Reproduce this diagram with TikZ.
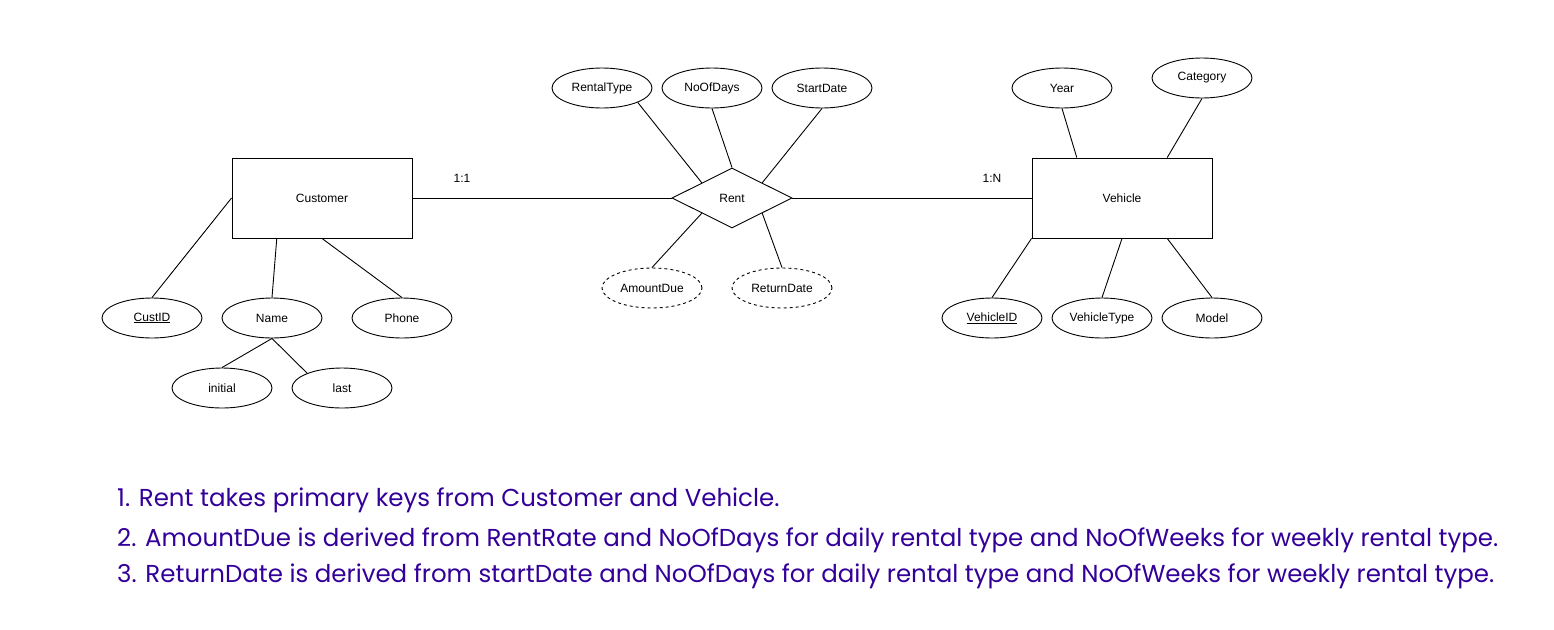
\documentclass[tikz,border=0pt]{standalone}
\usepackage{fontspec}
\setmainfont{Liberation Sans}
\newfontfamily\notefont{Poppins}
\usetikzlibrary{shapes.geometric,calc}
\definecolor{NoteBlue}{HTML}{330099}

\begin{document}
\begin{tikzpicture}[x=1pt,y=-1pt,
  every node/.style={font=\fontsize{12}{14}\selectfont},
  entity/.style={draw,line width=0.9pt,minimum width=180pt,minimum height=80pt,inner sep=0pt},
  attr/.style={draw,ellipse,line width=0.9pt,minimum width=100pt,minimum height=40pt,inner sep=0pt},
  derived/.style={attr,dash pattern=on 3pt off 3pt},
  relation/.style={draw,diamond,aspect=2,line width=0.9pt,minimum width=120pt,minimum height=60pt,inner sep=0pt},
  link/.style={line width=0.9pt},
  note/.style={anchor=west,inner sep=0pt,text=NoteBlue,font=\notefont\fontsize{24.5}{28}\selectfont}]
\fill[white] (0,0) rectangle (1554,629);
\useasboundingbox (0,0) rectangle (1554,629);

% Entities and relation
\node[entity] (cust) at (322,198) {Customer};
\node[relation] (rent) at (732,198) {Rent};
\node[entity] (veh) at (1122,198) {Vehicle};

% Rent attributes
\node[attr] (rtype) at (602,88) {RentalType};
\node[attr] (ndays) at (712,88) {NoOfDays};
\node[attr] (sdate) at (822,88) {StartDate};
\node[derived] (adue) at (652,288) {AmountDue};
\node[derived] (rdate) at (782,288) {ReturnDate};

% Customer attributes
\node[attr] (cid) at (152,318) {\underline{CustID}};
\node[attr] (cname) at (272,318) {Name};
\node[attr] (phone) at (402,318) {Phone};
\node[attr] (initial) at (222,388) {initial};
\node[attr] (last) at (342,388) {last};

% Vehicle attributes
\node[attr] (year) at (1062,88) {Year};
\node[attr] (cat) at (1202,78) {Category};
\node[attr] (vid) at (992,318) {\underline{VehicleID}};
\node[attr] (vtype) at (1102,318) {VehicleType};
\node[attr] (model) at (1212,318) {Model};

% Cardinalities
\node (c11) at (462,178) {1:1};
\node (c1n) at (992,178) {1:N};

% Links
\draw[link] (cust.east) -- (rent.west);
\draw[link] (rent.east) -- (veh.west);

\draw[link] (rtype.-22) -- ($(rent.west)!0.5!(rent.north)$);
\draw[link] (ndays.south) -- (rent.north);
\draw[link] (sdate.south) -- ($(rent.north)!0.5!(rent.east)$);
\draw[link] (adue.north) -- ($(rent.west)!0.5!(rent.south)$);
\draw[link] (rdate.north) -- ($(rent.south)!0.5!(rent.east)$);

\draw[link] (cid.north) -- (cust.west);
\draw[link] (cname.north) -- ($(cust.south west)!0.25!(cust.south east)$);
\draw[link] (phone.north) -- (cust.south);
\draw[link] (cname.south) -- (initial.north);
\draw[link] (cname.south) -- (last.157);

\draw[link] (year.south) -- ($(veh.north west)!0.25!(veh.north east)$);
\draw[link] (cat.south) -- ($(veh.north west)!0.75!(veh.north east)$);
\draw[link] (vid.north) -- (veh.south west);
\draw[link] (vtype.north) -- (veh.south);
\draw[link] (model.north) -- ($(veh.south west)!0.75!(veh.south east)$);

% Notes
\node[note] (note1) at (117,500) {1. Rent takes primary keys from Customer and Vehicle.};
\node[note] (note2) at (117,540) {2. AmountDue is derived from RentRate and NoOfDays for daily rental type and NoOfWeeks for weekly rental type.};
\node[note] (note3) at (117,576) {3. ReturnDate is derived from startDate and NoOfDays for daily rental type and NoOfWeeks for weekly rental type.};
\end{tikzpicture}
\end{document}
